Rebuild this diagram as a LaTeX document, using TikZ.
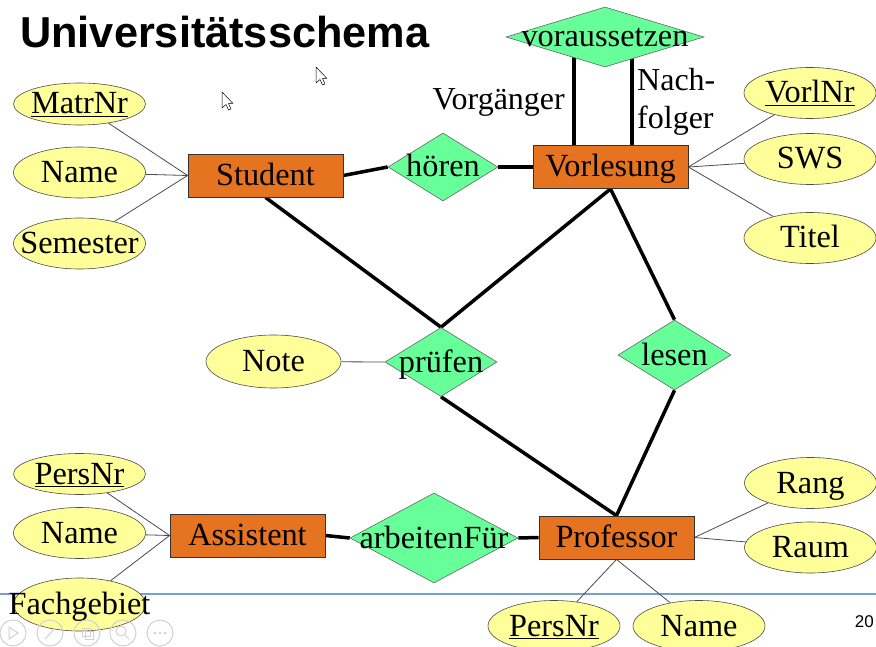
\documentclass[tikz,border=0pt]{standalone}
\usepackage{fontspec}
\setmainfont{Liberation Serif}
\newfontfamily\headfont{Liberation Sans}
\usetikzlibrary{shapes.geometric,backgrounds}

\definecolor{entfill}{RGB}{229,115,32}
\definecolor{relfill}{RGB}{102,255,153}
\definecolor{attfill}{RGB}{255,255,153}
\definecolor{slideline}{RGB}{120,160,205}

\newcommand{\erlabel}[1]{\makebox[0pt]{#1}}

\tikzset{
  er/.style={inner sep=0pt, text height=21pt, text depth=1pt,
    font=\fontsize{32.3}{38}\selectfont},
  entity/.style={er, rectangle, draw=black!80, fill=entfill, line width=0.8pt,
    minimum width=155pt, minimum height=43pt},
  relship/.style={er, diamond, draw=black!60, fill=relfill, line width=0.6pt},
  attrib/.style={er, ellipse, draw=black!70, fill=attfill, line width=0.6pt,
    minimum width=132pt, minimum height=51pt},
  rolename/.style={inner sep=0pt, font=\fontsize{32}{38}\selectfont},
  link/.style={line width=3.5pt},
  attlink/.style={draw=black!70, line width=0.8pt},
  cursor/.style={fill=white, draw=black, line width=0.5pt, line join=round},
  navbtn/.style={draw=black!18, line width=1pt}
}

\begin{document}
\begin{tikzpicture}[x=1pt,y=-1pt]

\useasboundingbox (0,0) rectangle (876,647);

\node[anchor=base west, inner sep=0pt, font=\headfont\bfseries\fontsize{43.3}{50}\selectfont] (title) at (20,48) {Universitätsschema};

% entities
\node[entity] (student) at (265.5,175.5) {Student};
\node[entity] (vorlesung) at (610.5,167) {Vorlesung};
\node[entity] (assistent) at (247.5,535.5) {Assistent};
\node[entity] (professor) at (616.5,537.5) {Professor};

% relationships
\node[relship, minimum width=110pt, minimum height=68pt] (hoeren) at (443,167) {\erlabel{hören}};
\node[relship, minimum width=198pt, minimum height=60pt] (voraussetzen) at (605,37) {\erlabel{voraussetzen}};
\node[relship, minimum width=112pt, minimum height=69pt] (pruefen) at (441,362) {\erlabel{prüfen}};
\node[relship, minimum width=113pt, minimum height=70pt] (lesen) at (674.5,355) {\erlabel{lesen}};
\node[relship, minimum width=168pt, minimum height=90pt] (arbeitenfuer) at (434,538) {\erlabel{arbeitenFür}};

% attributes
\node[attrib, minimum height=42pt] (matrnr) at (79.5,104) {\erlabel{\underline{MatrNr}}};
\node[attrib] (sname) at (79.5,172.5) {\erlabel{Name}};
\node[attrib] (semester) at (79.5,243.5) {\erlabel{Semester}};
\node[attrib] (vorlnr) at (810,93) {\erlabel{\underline{VorlNr}}};
\node[attrib] (sws) at (810,159) {\erlabel{SWS}};
\node[attrib] (titel) at (810,238) {\erlabel{Titel}};
\node[attrib, minimum width=135pt, minimum height=53pt] (note) at (273.5,361.5) {\erlabel{Note}};
\node[attrib, minimum height=41pt] (apersnr) at (79.5,474) {\erlabel{\underline{PersNr}}};
\node[attrib] (aname) at (79.5,533) {\erlabel{Name}};
\node[attrib, minimum height=53pt] (fachgebiet) at (79.5,604.5) {\erlabel{Fachgebiet}};
\node[attrib] (rang) at (810.5,483) {\erlabel{Rang}};
\node[attrib] (raum) at (810.5,547.5) {\erlabel{Raum}};
\node[attrib] (ppersnr) at (554,626) {\erlabel{\underline{PersNr}}};
\node[attrib] (pname) at (699,626) {\erlabel{Name}};

% role names
\node[rolename, anchor=base east] (vorgaenger) at (565,110) {Vorgänger};
\node[rolename, anchor=north west, align=left] (nachfolger) at (637,68.5) {Nach-\\folger};

\coordinate (vgtop) at ([xshift=-31pt]voraussetzen.center);
\coordinate (nftop) at ([xshift=27pt]voraussetzen.center);

\begin{scope}[on background layer]
  \fill[white] (0,0) rectangle (876,647);
  \draw[slideline, line width=1.5pt] (0,594) -- (876,594);

  \foreach \a in {matrnr,sname,semester} \draw[attlink] (\a) -- (student.west);
  \foreach \a in {vorlnr,sws,titel} \draw[attlink] (\a) -- (vorlesung.east);
  \foreach \a in {apersnr,aname,fachgebiet} \draw[attlink] (\a) -- (assistent.west);
  \foreach \a in {rang,raum} \draw[attlink] (\a) -- (professor.east);
  \foreach \a in {ppersnr,pname} \draw[attlink] (\a) -- (professor.south);
  \draw[attlink] (note) -- (pruefen.west);

  \draw[link] (student.east) -- (hoeren.west);
  \draw[link] (hoeren.east) -- (vorlesung.west);
  \draw[link] (vgtop) -- (vgtop |- vorlesung.north);
  \draw[link] (nftop) -- (nftop |- vorlesung.north);
  \draw[link] (student.south) -- (pruefen.north);
  \draw[link] (vorlesung.south) -- (pruefen.north);
  \draw[link] (vorlesung.south) -- (lesen.north);
  \draw[link] (pruefen.south) -- (professor.north);
  \draw[link] (lesen.south) -- (professor.north);
  \draw[link] (assistent.east) -- (arbeitenfuer.west);
  \draw[link] (arbeitenfuer.east) -- (professor.west);
\end{scope}

% slide footer
\node[anchor=base east, inner sep=0pt, font=\headfont\fontsize{17}{20}\selectfont] (pagenr) at (874,627) {20};

\foreach \x in {13,50,87,123,160} \draw[navbtn] (\x,633) circle (13);
\draw[navbtn] (9,627) -- (9,639) -- (18,633) -- cycle;
\draw[navbtn] (45,639) -- (55,628);
\draw[navbtn] (82,628) rectangle (90,636);
\draw[navbtn] (85,631) rectangle (93,639);
\draw[navbtn] (121,631) circle (5);
\draw[navbtn] (125,635) -- (129,639);
\foreach \d in {-5,0,5} \fill[black!18] (160+\d,633) circle (1.5);

% mouse pointers
\draw[cursor, shift={(222,92)}] (0,0) -- (0,16) -- (4,12.5) -- (6.5,18) -- (9,17) -- (6.5,11.5) -- (11,11.5) -- cycle;
\draw[cursor, shift={(316,67)}] (0,0) -- (0,16) -- (4,12.5) -- (6.5,18) -- (9,17) -- (6.5,11.5) -- (11,11.5) -- cycle;

\end{tikzpicture}
\end{document}
